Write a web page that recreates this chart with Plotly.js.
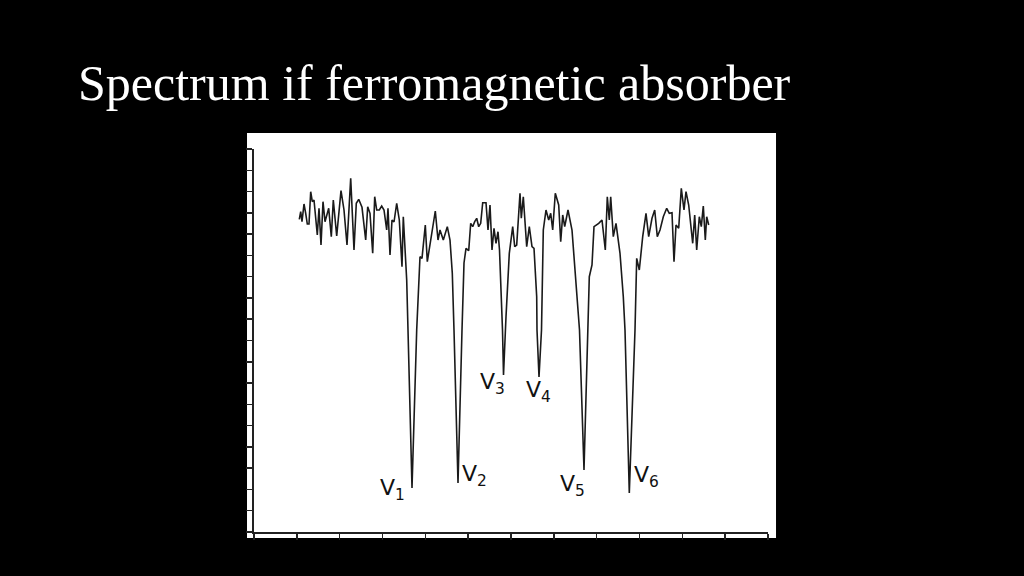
<!DOCTYPE html>
<html>
<head>
<meta charset="utf-8">
<script src="https://cdn.plot.ly/plotly-3.0.1.min.js"></script>
<style>html,body{margin:0;padding:0;background:#000;}#chart{width:1024px;height:576px;}</style>
</head>
<body>
<div id="chart"></div>
<script>
// Mössbauer spectrum, ferromagnetic absorber (channel vs counts, arbitrary units)
const channel = [45.3,46.7,48,50,51.7,53.3,55,56.7,58.3,60,63.3,65,67,69,71,72.7,74.7,77.3,79.3,82.7,87,90,93,96.7,100,102.3,104.7,108,111.7,113.7,116,118.7,120.7,122.7,125.3,127.7,130,132.7,134,136,138,140,142.7,145.3,148,149.3,152.7,154,
158,
162.7,166,168,171.3,173.3,176.7,181.3,184,186,189.3,193.3,196,198.3,200,
204,
208,210,212,214.7,216.7,218.7,220.7,222.7,224.7,226.7,228.7,232,234,236,238,240,242,244,245.5,247,248.5,
249.5,
251.3,252,255.3,258.7,260.7,262.7,266,267.3,269.3,272.7,275.3,278,280,282.7,283,
285,
287.5,289.3,292,294.7,296.7,298.7,301.3,304.7,306.7,308.7,310.7,314,318,322,325.5,
330,
333.8,335.3,338,340,344.7,348,351.3,353.3,355.3,356.7,359.3,362,366,369.3,371,
375.3,
381,382.7,385.3,388.7,392,394.7,398,400.7,403.3,406,409.3,412.7,415.3,418,420,422,424.7,427.3,430,432,434.7,438.7,440.7,442.7,445.3,447.3,449.3,451.3,452.7,454.7];
const counts = [312.7,320.3,310.3,328,318.7,308,308,340.3,330.3,332,297,323.7,287,330.3,310.3,317,323.7,295.3,332,296,341.3,322,287,353.7,282,328.7,332.7,324.7,292,325.3,318.7,278.7,335.3,322,322,326,322,302,323.7,277,312,310,328.7,312,265.3,315.3,252,202,
44,
202,275.3,273.7,307,270.3,292,321,292,302,292,305.3,292,258.7,202,
49,
202,269,283.7,281.3,308.7,305.3,310.3,313.7,305.3,308.7,329.3,329.3,302,327,282,303.7,288.7,300.3,282,247,202,
157,
202,215.3,278.7,305.3,285.3,287,338.7,313.7,335.3,285.3,305.3,285.3,283.7,235.3,202,
155,
202,302,322,312,318.7,302,338.7,327,290.3,317,305.3,322,302,245.3,202,
62,
202,255.3,267,305.3,308.7,312,282,335.3,312,335.3,295.3,308.7,278.7,235.3,202,
39,
202,273.7,262,295.3,318.7,295.3,313.7,322,295.3,302,315.3,323.7,318.7,319.3,270.3,307,303.7,343.7,322,340.3,327,288.7,317,282,315.3,305.3,326,292,315.3,307];

// absorption line labels and their minima (channel, counts)
const lineLabels = ['V<sub>1</sub>','V<sub>2</sub>','V<sub>3</sub>','V<sub>4</sub>','V<sub>5</sub>','V<sub>6</sub>'];
const lineChannel = [158, 204, 249.5, 285, 330, 375.3];
const lineCounts = [44, 49, 157, 155, 62, 39];

const titleText = 'Spectrum if ferromagnetic absorber';

const xRange = [0, 514];
const yRange = [0, 383];
const xTickCount = 12;
const yTickCount = 18;

const labelShift = [[-20,-1],[16,8],[-11,-8],[-1,-14],[-12,-15],[17,17]];

const annotations = lineLabels.map((t,i)=>({
  x: lineChannel[i], y: lineCounts[i], xref:'x', yref:'y', text: t, showarrow:false,
  xanchor:'center', yanchor:'middle', xshift: labelShift[i][0], yshift: labelShift[i][1],
  font:{family:'DejaVu Sans', size:22, color:'#111'}
}));

const trace = {
  x: channel, y: counts, type:'scatter', mode:'lines',
  line:{color:'#1a1a1a', width:1.6}, hoverinfo:'skip'
};

const layout = {
  width:1024, height:576,
  paper_bgcolor:'#000', plot_bgcolor:'#fff',
  margin:{l:254, r:256, t:149, b:44, pad:0},
  showlegend:false,
  title:{text: titleText, xref:'container', yref:'container', x:0.0762, xanchor:'left', y:0.856, yanchor:'middle',
    font:{family:'Liberation Serif', size:50, color:'#fff'}},
  xaxis:{range:xRange, tick0:0, dtick:(xRange[1]-xRange[0])/xTickCount, ticks:'outside', ticklen:6, tickwidth:1.5, tickcolor:'#222',
    showticklabels:false, showline:true, linecolor:'#222', linewidth:2, showgrid:false, zeroline:false, fixedrange:true},
  yaxis:{range:yRange, tick0:0, dtick:(yRange[1]-yRange[0])/yTickCount, ticks:'outside', ticklen:6, tickwidth:1.5, tickcolor:'#222',
    showticklabels:false, showline:true, linecolor:'#222', linewidth:2, showgrid:false, zeroline:false, fixedrange:true},
  shapes:[{type:'rect', xref:'paper', yref:'paper', x0:-0.0136, x1:1.0156, y0:-0.0157, y1:1.0418,
    fillcolor:'#fff', line:{width:0}, layer:'below'}],
  annotations: annotations
};

Plotly.newPlot('chart', [trace], layout, {displayModeBar:false, staticPlot:true});
</script>
</body>
</html>
